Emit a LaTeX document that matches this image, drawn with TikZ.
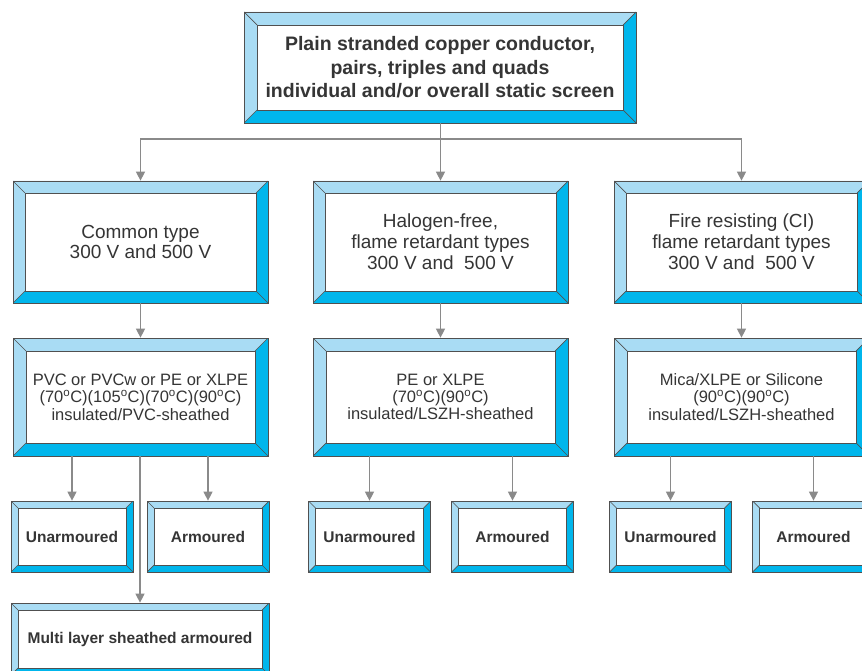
\documentclass[tikz,border=0pt]{standalone}
\usepackage{fontspec}
\setmainfont{Liberation Sans}
\usetikzlibrary{arrows.meta}
\definecolor{paleblue}{HTML}{A9DCF4}
\definecolor{deepblue}{HTML}{00B6EC}
\definecolor{edge}{HTML}{505050}
\definecolor{ink}{HTML}{353535}
\definecolor{wire}{HTML}{8A8A8A}
\tikzset{
	rim/.initial=12pt,
	bevbox/.style={rectangle, draw=edge, line width=0.7pt, fill=deepblue, inner sep=0pt, align=center, text=ink,
		path picture={
			\def\pb{path picture bounding box}
			\def\bv{\pgfkeysvalueof{/tikz/rim}}
			\fill[paleblue] (\pb.north west) -- (\pb.north east) -- ([shift={(-\bv,-\bv)}]\pb.north east)%
			-- ([shift={(\bv,-\bv)}]\pb.north west) -- ([shift={(\bv,\bv)}]\pb.south west) -- (\pb.south west) -- cycle;
			\filldraw[fill=white, draw=edge, line width=0.7pt] ([shift={(\bv,-\bv)}]\pb.north west) rectangle ([shift={(-\bv,\bv)}]\pb.south east);
			\draw[edge, line width=0.7pt] (\pb.north west) -- ++(\bv,-\bv) (\pb.north east) -- ++(-\bv,-\bv)%
			(\pb.south west) -- ++(\bv,\bv) (\pb.south east) -- ++(-\bv,\bv);
		}},
	headbox/.style={bevbox, minimum width=392pt, minimum height=111pt, rim=13pt, font=\bfseries\fontsize{19.5}{23.5}\selectfont},
	typebox/.style={bevbox, minimum width=255pt, minimum height=122pt, rim=12pt, font=\fontsize{19}{20.8}\selectfont},
	insbox/.style={bevbox, minimum width=255pt, minimum height=118pt, rim=13pt, font=\fontsize{16.5}{17.4}\selectfont},
	armbox/.style={bevbox, minimum width=122pt, minimum height=71pt, rim=7pt, font=\bfseries\fontsize{15.5}{18}\selectfont},
	multibox/.style={armbox, minimum width=258pt, minimum height=72pt},
	wire/.style={draw=wire, line width=1.2pt},
}
\newcommand{\dg}{\textsuperscript{o}C}
\begin{document}
\begin{tikzpicture}[x=1pt,y=-1pt,>={Triangle[width=9pt,length=9pt]}]
	\useasboundingbox (0,0) rectangle (862,671);
	\clip (0,0) rectangle (862,671);
	\fill[white] (0,0) rectangle (862,671);
	\node[headbox] (head) at (440,67.5) {Plain stranded copper conductor,\\pairs, triples and quads\\individual and/or overall static screen};
	\node[typebox] (common) at (140.5,242) {Common type\\300 V and 500 V};
	\node[typebox] (halogen) at (440.5,242) {Halogen-free,\\flame retardant types\\300 V and\ \ 500 V};
	\node[typebox] (fire) at (741.5,242) {Fire resisting (CI)\\flame retardant types\\300 V and\ \ 500 V};
	\node[insbox] (pvc) at (140.5,397) {PVC or PVCw or PE or XLPE\\(70\dg)(105\dg)(70\dg)(90\dg)\\insulated/PVC-sheathed};
	\node[insbox] (pe) at (440.5,397) {PE or XLPE\\(70\dg)(90\dg)\\insulated/LSZH-sheathed};
	\node[insbox] (mica) at (741.5,397) {Mica/XLPE or Silicone\\(90\dg)(90\dg)\\insulated/LSZH-sheathed};
	\node[armbox] (unarmA) at (72,536.5) {Unarmoured};
	\node[armbox] (armA) at (208,536.5) {Armoured};
	\node[armbox] (unarmB) at (369.5,536.5) {Unarmoured};
	\node[armbox] (armB) at (512.5,536.5) {Armoured};
	\node[armbox] (unarmC) at (670.5,536.5) {Unarmoured};
	\node[armbox] (armC) at (813.5,536.5) {Armoured};
	\node[multibox] (multi) at (140,639) {Multi layer sheathed armoured};
	\coordinate (split) at (440.5,139);
	\draw[wire] (head.south -| split) -- (split);
	\draw[wire,->] (split) -| (common.north);
	\draw[wire,->] (split) -- (halogen.north);
	\draw[wire,->] (split) -| (fire.north);
	\draw[wire,->] (common) -- (pvc);
	\draw[wire,->] (halogen) -- (pe);
	\draw[wire,->] (fire) -- (mica);
	\draw[wire,->] (pvc.south -| unarmA) -- (unarmA);
	\draw[wire,->] (pvc.south -| armA) -- (armA);
	\draw[wire,->] (pvc.south -| multi) -- (multi);
	\draw[wire,->] (pe.south -| unarmB) -- (unarmB);
	\draw[wire,->] (pe.south -| armB) -- (armB);
	\draw[wire,->] (mica.south -| unarmC) -- (unarmC);
	\draw[wire,->] (mica.south -| armC) -- (armC);
\end{tikzpicture}
\end{document}
